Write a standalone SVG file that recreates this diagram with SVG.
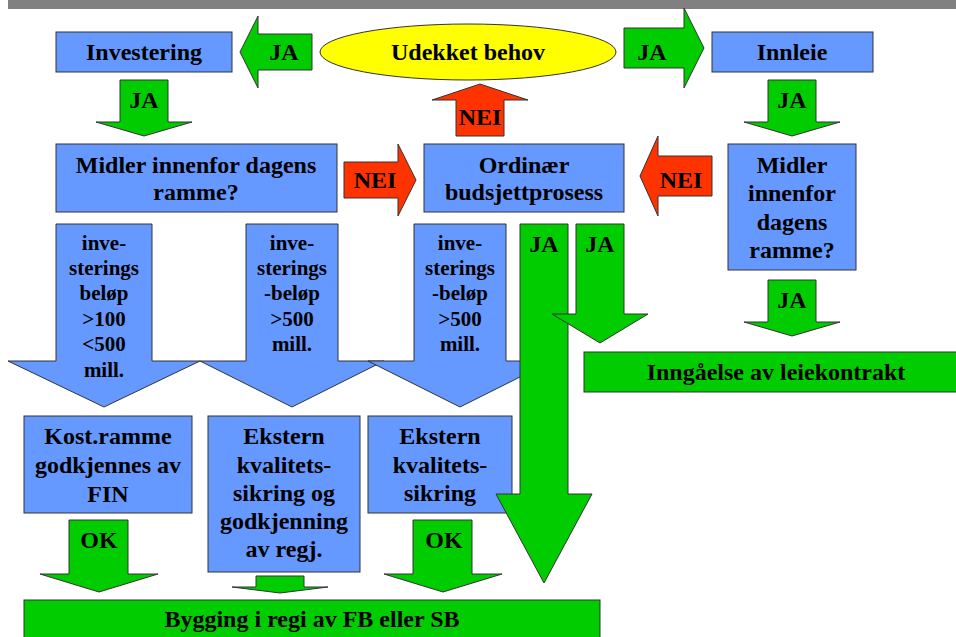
<svg xmlns="http://www.w3.org/2000/svg" width="956" height="637" viewBox="0 0 956 637">
  <style>
    .box { fill: #6699FF; stroke: #333333; stroke-width: 1; }
    .grn { fill: #00CC00; stroke: #333333; stroke-width: 1; }
    .red { fill: #FF3300; stroke: #333333; stroke-width: 1; }
    .blu { fill: #6699FF; stroke: #333333; stroke-width: 1; }
    text { font-family: "Liberation Serif", "Times New Roman", serif; font-weight: bold; fill: #000000; text-anchor: middle; }
    .t24 { font-size: 24px; }
    .t21 { font-size: 21px; }
  </style>

  <rect width="956" height="637" fill="#FFFFFF"/>
  <!-- header bar -->
  <rect x="8" y="0" width="948" height="9" fill="#808080"/>

  <!-- flow arrows -->
  <g id="connectors">
    <!-- amount branches -->
    <polygon class="blu" points="56,224 152,224 152,361 200,361 104,407 8,361 56,361"/>
    <text class="t21" x="104" y="250">inve-</text>
    <text class="t21" x="104" y="275">sterings</text>
    <text class="t21" x="104" y="300">beløp</text>
    <text class="t21" x="104" y="326">&gt;100</text>
    <text class="t21" x="104" y="351">&lt;500</text>
    <text class="t21" x="104" y="377">mill.</text>

    <polygon class="blu" points="246,224 338,224 338,361 384,361 292,407 200,361 246,361"/>
    <text class="t21" x="292" y="250">inve-</text>
    <text class="t21" x="292" y="275">sterings</text>
    <text class="t21" x="292" y="300">-beløp</text>
    <text class="t21" x="292" y="326">&gt;500</text>
    <text class="t21" x="292" y="351">mill.</text>

    <polygon class="blu" points="414,224 506,224 506,361 552,361 460,407 368,361 414,361"/>
    <text class="t21" x="460" y="250">inve-</text>
    <text class="t21" x="460" y="275">sterings</text>
    <text class="t21" x="460" y="300">-beløp</text>
    <text class="t21" x="460" y="326">&gt;500</text>
    <text class="t21" x="460" y="351">mill.</text>

    <!-- Udekket behov -> Investering / Innleie -->
    <polygon class="grn" points="240,52 258,16 258,34 312,34 312,70 258,70 258,88"/>
    <text class="t24" x="284" y="60">JA</text>
    <polygon class="grn" points="624,28 684,28 684,8 704,48 684,88 684,68 624,68"/>
    <text class="t24" x="652" y="60">JA</text>

    <!-- down JA arrows -->
    <polygon class="grn" points="120,80 168,80 168,122 192,122 144,136 96,122 120,122"/>
    <text class="t24" x="144" y="108">JA</text>
    <polygon class="grn" points="768,80 816,80 816,122 840,122 792,136 744,122 768,122"/>
    <text class="t24" x="792" y="108">JA</text>
    <polygon class="grn" points="768,280 816,280 816,322 840,322 792,336 744,322 768,322"/>
    <text class="t24" x="792" y="308">JA</text>

    <!-- NEI arrows -->
    <polygon class="red" points="456,136 456,100 432,100 480,84 528,100 504,100 504,136"/>
    <text class="t24" x="480" y="125">NEI</text>
    <polygon class="red" points="344,162 398,162 398,144 416,180 398,216 398,198 344,198"/>
    <text class="t24" x="375" y="188">NEI</text>
    <polygon class="red" points="712,156 658,156 658,136 640,176 658,216 658,196 712,196"/>
    <text class="t24" x="681" y="188">NEI</text>

    <!-- OK arrows to Bygging -->
    <polygon class="grn" points="69,520 128,520 128,574 158,574 99,592 40,574 69,574"/>
    <text class="t24" x="99" y="548">OK</text>
    <polygon class="grn" points="256,576 304,576 304,587 328,587 280,593 232,587 256,587"/>
    <polygon class="grn" points="413,520 472,520 472,574 502,574 443,592 384,574 413,574"/>
    <text class="t24" x="444" y="548">OK</text>
  </g>

  <!-- nodes -->
  <g id="udekket-behov">
    <ellipse cx="468" cy="52" rx="148" ry="28" fill="#FFFF00" stroke="#333333" stroke-width="1"/>
    <text class="t24" x="468" y="60">Udekket behov</text>
  </g>
  <g id="investering">
    <rect class="box" x="56" y="32" width="176" height="40"/>
    <text class="t24" x="144" y="60">Investering</text>
  </g>
  <g id="innleie">
    <rect class="box" x="712" y="32" width="161" height="40"/>
    <text class="t24" x="792" y="60">Innleie</text>
  </g>
  <g id="midler-investering">
    <rect class="box" x="56" y="144" width="281" height="68"/>
    <text class="t24" x="196" y="173">Midler innenfor dagens</text>
    <text class="t24" x="196" y="200">ramme?</text>
  </g>
  <g id="ordinaer">
    <rect class="box" x="424" y="144" width="200" height="68"/>
    <text class="t24" x="524" y="173">Ordinær</text>
    <text class="t24" x="524" y="200">budsjettprosess</text>
  </g>
  <g id="midler-innleie">
    <rect class="box" x="728" y="144" width="128" height="126"/>
    <text class="t24" x="792" y="173">Midler</text>
    <text class="t24" x="792" y="201">innenfor</text>
    <text class="t24" x="792" y="230">dagens</text>
    <text class="t24" x="792" y="258">ramme?</text>
  </g>
  <g id="inngaaelse">
    <rect class="grn" x="584" y="352" width="380" height="40"/>
    <text class="t24" x="776" y="380">Inngåelse av leiekontrakt</text>
  </g>
  <g id="kostramme">
    <rect class="box" x="24" y="416" width="168" height="97"/>
    <text class="t24" x="108" y="444">Kost.ramme</text>
    <text class="t24" x="108" y="473">godkjennes av</text>
    <text class="t24" x="108" y="502">FIN</text>
  </g>
  <g id="ekstern-regj">
    <rect class="box" x="208" y="416" width="152" height="156"/>
    <text class="t24" x="284" y="444">Ekstern</text>
    <text class="t24" x="284" y="473">kvalitets-</text>
    <text class="t24" x="284" y="501">sikring og</text>
    <text class="t24" x="284" y="529">godkjenning</text>
    <text class="t24" x="284" y="557">av regj.</text>
  </g>
  <g id="ekstern">
    <rect class="box" x="368" y="416" width="144" height="97"/>
    <text class="t24" x="440" y="444">Ekstern</text>
    <text class="t24" x="440" y="473">kvalitets-</text>
    <text class="t24" x="440" y="501">sikring</text>
  </g>
  <g id="bygging">
    <rect class="grn" x="24" y="600" width="576" height="45"/>
    <text class="t24" x="312" y="627">Bygging i regi av FB eller SB</text>
  </g>

  <!-- JA arrows from Ordinær budsjettprosess, drawn over neighbouring shapes -->
  <g id="connectors-ja">
    <polygon class="grn" points="520,224 568,224 568,494 592,494 544,583 496,494 520,494"/>
    <text class="t24" x="544" y="252">JA</text>
    <polygon class="grn" points="576,224 624,224 624,314 648,314 600,343 552,314 576,314"/>
    <text class="t24" x="600" y="252">JA</text>
  </g>
</svg>
